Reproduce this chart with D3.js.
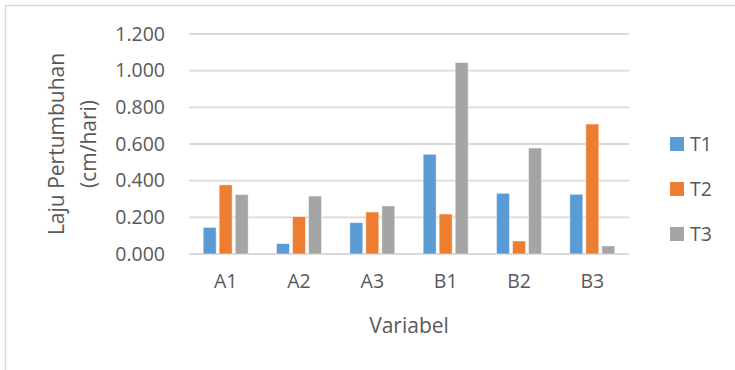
<!DOCTYPE html>
<html>
<head>
<meta charset="utf-8">
<script src="https://cdn.jsdelivr.net/npm/d3@7"></script>
<style>
  html, body { margin: 0; padding: 0; background: #fff; }
  svg { display: block; }
  text { font-family: "Open Sans", "Noto Sans", sans-serif; fill: #595959; }
</style>
</head>
<body>
<svg id="chart" width="735" height="370"></svg>
<script>
// Growth rate (cm/day) per variable, for each treatment
const categories = ["A1", "A2", "A3", "B1", "B2", "B3"];
const seriesNames = ["T1", "T2", "T3"];
const valuesT1 = [0.145, 0.057, 0.171, 0.544, 0.331, 0.326];
const valuesT2 = [0.377, 0.204, 0.229, 0.218, 0.071, 0.709];
const valuesT3 = [0.324, 0.316, 0.262, 1.044, 0.578, 0.044];
const yTicks = [0, 0.2, 0.4, 0.6, 0.8, 1.0, 1.2];
const colors = ["#5B9BD5", "#ED7D31", "#A5A5A5"];

const series = [valuesT1, valuesT2, valuesT3];

const svg = d3.select("#chart");
const W = 735, H = 370;
const plot = { left: 189, right: 629, top: 34, bottom: 254 };

// Outer chart frame
svg.append("rect")
  .attr("x", 5.5).attr("y", 5.5)
  .attr("width", W).attr("height", H)
  .attr("fill", "none").attr("stroke", "#D9D9D9").attr("stroke-width", 1.5);

const x = d3.scaleBand().domain(categories)
  .range([plot.left, plot.right]).paddingInner(0).paddingOuter(0);
const xInner = d3.scaleBand().domain(seriesNames)
  .range([0, x.bandwidth()]).paddingInner(0.19).paddingOuter(0.885);
const y = d3.scaleLinear().domain([0, 1.2]).range([plot.bottom, plot.top]);

// Gridlines
svg.append("g")
  .selectAll("line").data(yTicks).join("line")
  .attr("x1", plot.left).attr("x2", plot.right)
  .attr("y1", d => y(d)).attr("y2", d => y(d))
  .attr("stroke", "#D9D9D9").attr("stroke-width", 1.8);

// Y axis tick labels
const yAxis = d3.axisLeft(y).tickValues(yTicks)
  .tickFormat(d => d3.format(".3f")(d).replace(",", "."))
  .tickSize(0).tickPadding(24);
const gy = svg.append("g").attr("transform", `translate(${plot.left},0)`).call(yAxis);
gy.select(".domain").remove();
gy.selectAll("text").attr("font-size", 19.5).attr("fill", "#595959")
  .attr("font-family", "'Open Sans', sans-serif");

// X axis category labels
const xAxis = d3.axisBottom(x).tickSize(0).tickPadding(20);
const gx = svg.append("g").attr("transform", `translate(0,${plot.bottom})`).call(xAxis);
gx.select(".domain").remove();
gx.selectAll("text").attr("font-size", 19.5).attr("fill", "#595959")
  .attr("font-family", "'Open Sans', sans-serif");

// Bars
const groups = svg.append("g").selectAll("g").data(categories).join("g")
  .attr("transform", c => `translate(${x(c)},0)`);
groups.selectAll("rect")
  .data((c, i) => series.map((s, k) => ({ name: seriesNames[k], value: s[i], k })))
  .join("rect")
  .attr("x", d => xInner(d.name))
  .attr("width", xInner.bandwidth())
  .attr("y", d => y(d.value))
  .attr("height", d => y(0) - y(d.value))
  .attr("fill", d => colors[d.k])
  .attr("stroke", "#fff").attr("stroke-opacity", 0.6).attr("stroke-width", 0.8);

// Axis titles
svg.append("text")
  .attr("x", (plot.left + plot.right) / 2).attr("y", 333)
  .attr("text-anchor", "middle").attr("font-size", 21)
  .text("Variabel");

const yTitle = svg.append("text")
  .attr("transform", `translate(0,${(plot.top + plot.bottom) / 2}) rotate(-90)`)
  .attr("text-anchor", "middle").attr("font-size", 21);
yTitle.append("tspan").attr("x", 0).attr("y", 64).text("Laju Pertumbuhan");
yTitle.append("tspan").attr("x", 0).attr("y", 96).text("(cm/hari)");

// Legend
const legend = svg.append("g").selectAll("g").data(seriesNames).join("g")
  .attr("transform", (d, i) => `translate(670,${137 + i * 45})`);
legend.append("rect").attr("width", 14).attr("height", 14)
  .attr("fill", (d, i) => colors[i]);
legend.append("text").attr("x", 20).attr("y", 14)
  .attr("font-size", 19.5).text(d => d);
</script>
</body>
</html>
